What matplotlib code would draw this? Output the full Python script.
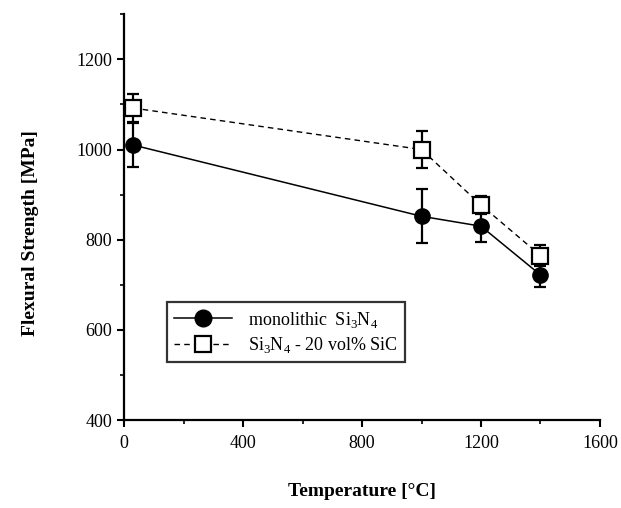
import matplotlib
matplotlib.use("Agg")
import matplotlib.pyplot as plt
from matplotlib.lines import Line2D
from matplotlib.ticker import MultipleLocator

plt.rcParams["font.family"] = "Liberation Serif"
plt.rcParams["mathtext.fontset"] = "custom"
plt.rcParams["mathtext.rm"] = "Liberation Serif"

# data
temp = [30, 1000, 1200, 1400]
mono = [1010, 852, 830, 722]
mono_err = [48, 60, 35, 26]
comp = [1092, 1000, 877, 765]
comp_err = [31, 40, 20, 23]
labels = [r"monolithic  Si$_3$N$_4$", r"Si$_3$N$_4$ - 20 vol% SiC"]

fig = plt.figure(figsize=(6.21, 5.08), dpi=100)
ax = fig.add_axes([0.2, 0.173, 0.766, 0.799])

ax.errorbar(temp, mono, yerr=mono_err, fmt="-o", color="black", mfc="black",
            ms=11, lw=1.1, elinewidth=1.6, capsize=4, capthick=1.6, zorder=3)
ax.errorbar(temp, comp, yerr=comp_err, fmt="--s", color="black", mfc="white",
            mew=1.6, ms=11, lw=1.0, dashes=(4, 3), elinewidth=1.6, capsize=4,
            capthick=1.6, zorder=4)

ax.set_xlim(0, 1600)
ax.set_ylim(400, 1300)
ax.xaxis.set_major_locator(MultipleLocator(400))
ax.xaxis.set_minor_locator(MultipleLocator(200))
ax.set_yticks([400, 600, 800, 1000, 1200])
ax.yaxis.set_minor_locator(MultipleLocator(100))

for s in ["top", "right"]:
    ax.spines[s].set_visible(False)
for s in ["left", "bottom"]:
    ax.spines[s].set_linewidth(1.6)
ax.tick_params(which="major", direction="out", length=5, width=1.5,
               labelsize=13)
ax.tick_params(which="minor", direction="out", length=3, width=1.2)
ax.tick_params(axis="x", pad=6)

ax.set_xlabel("Temperature [°C]", fontsize=14, fontweight="bold", labelpad=22)
ax.set_ylabel("Flexural Strength [MPa]", fontsize=14, fontweight="bold")
ax.yaxis.set_label_coords(-0.18, 0.46)

handles = [
    Line2D([], [], color="black", marker="o", mfc="black", ms=12, lw=1.1),
    Line2D([], [], color="black", marker="s", mfc="white", mew=1.6, ms=12,
           lw=1.0, ls=(0, (4, 3))),
]
leg = ax.legend(handles, labels, loc="upper left",
                bbox_to_anchor=(0.09, 0.29), fontsize=13, frameon=True,
                fancybox=False, edgecolor="black", handlelength=3.2,
                handletextpad=0.9, borderpad=0.4, labelspacing=0.3,
                borderaxespad=0)
leg.get_frame().set_linewidth(1.6)

fig.savefig("out.png", dpi=100)
